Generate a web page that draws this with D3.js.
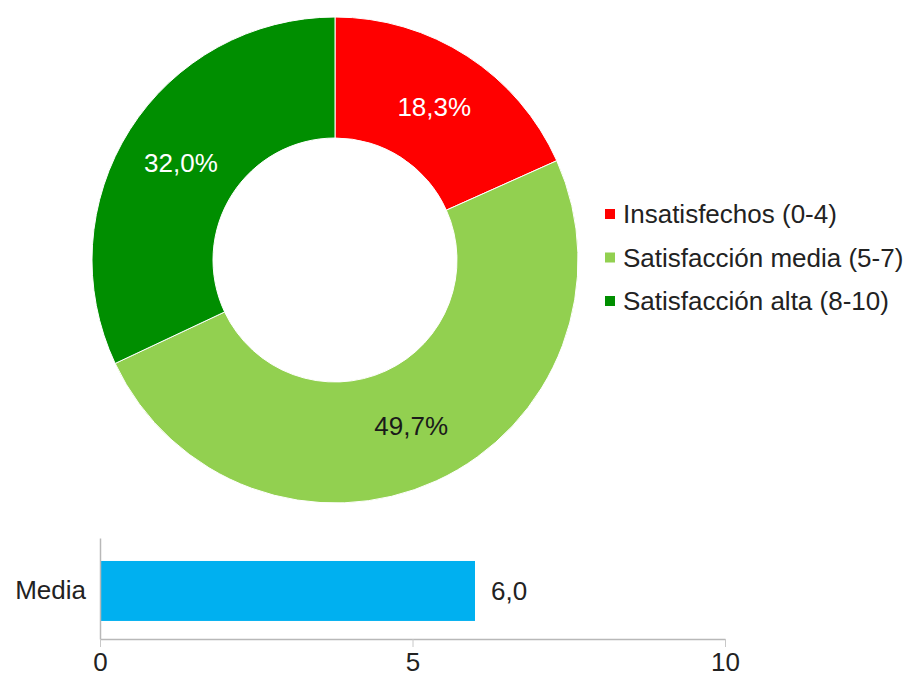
<!DOCTYPE html>
<html>
<head>
<meta charset="utf-8">
<script src="https://cdn.jsdelivr.net/npm/d3@7"></script>
<style>
  html, body { margin: 0; padding: 0; background: #fff; }
  svg { display: block; font-family: "Liberation Sans", Arial, sans-serif; }
</style>
</head>
<body>
<svg id="chart" width="914" height="677"></svg>
<script>
// Satisfaction distribution (percent)
const categories = ["Insatisfechos (0-4)", "Satisfacción media (5-7)", "Satisfacción alta (8-10)"];
const shares = [18.3, 49.7, 32.0];
const shareLabels = ["18,3%", "49,7%", "32,0%"];
const colors = ["#ff0000", "#92d050", "#008e00"];
const labelColors = ["#ffffff", "#1a1a1a", "#ffffff"];

// Mean score
const barCategories = ["Media"];
const barValues = [6.0];
const barLabels = ["6,0"];
const axisTicks = [0, 5, 10];
const axisTickLabels = ["0", "5", "10"];

const svg = d3.select("#chart");
const fontSize = 26;

// ---- Donut ----
const cx = 335, cy = 260, rOuter = 243, rInner = 122;
const pie = d3.pie().sort(null).value(d => d)(shares);
const arc = d3.arc().innerRadius(rInner).outerRadius(rOuter);

const donut = svg.append("g").attr("transform", `translate(${cx},${cy})`);
donut.selectAll("path.slice")
  .data(pie)
  .join("path")
  .attr("class", "slice")
  .attr("d", arc)
  .attr("fill", (d, i) => colors[i])
  .attr("stroke", "#ffffff")
  .attr("stroke-width", 1);

donut.selectAll("text.pct")
  .data(pie)
  .join("text")
  .attr("class", "pct")
  .attr("transform", d => `translate(${arc.centroid(d)})`)
  .attr("text-anchor", "middle")
  .attr("dy", "0.36em")
  .attr("font-size", fontSize)
  .attr("fill", (d, i) => labelColors[i])
  .text((d, i) => shareLabels[i]);

// ---- Legend ----
const legend = svg.append("g").attr("transform", "translate(605,214)");
const rowGap = 43.5;
const rows = legend.selectAll("g.row")
  .data(categories)
  .join("g")
  .attr("class", "row")
  .attr("transform", (d, i) => `translate(0,${i * rowGap})`);
rows.append("rect")
  .attr("x", 0).attr("y", -5)
  .attr("width", 10).attr("height", 10)
  .attr("fill", (d, i) => colors[i]);
rows.append("text")
  .attr("x", 18)
  .attr("dy", "0.36em")
  .attr("font-size", fontSize)
  .attr("fill", "#222")
  .text(d => d);

// ---- Bar chart of the mean ----
const x = d3.scaleLinear().domain([0, 10]).range([100, 725]);
const y = d3.scaleBand().domain(barCategories).range([538, 639])
  .paddingInner(0).paddingOuter(0.342).align(0.56);

const bars = svg.append("g");
bars.selectAll("rect")
  .data(barValues)
  .join("rect")
  .attr("x", x(0))
  .attr("y", (d, i) => y(barCategories[i]))
  .attr("width", d => x(d) - x(0))
  .attr("height", y.bandwidth())
  .attr("fill", "#00b0f0");

bars.selectAll("text.val")
  .data(barValues)
  .join("text")
  .attr("class", "val")
  .attr("x", d => x(d) + 16)
  .attr("y", (d, i) => y(barCategories[i]) + y.bandwidth() / 2)
  .attr("dy", "0.36em")
  .attr("font-size", fontSize)
  .attr("fill", "#222")
  .text((d, i) => barLabels[i]);

// Category axis
const yAxis = svg.append("g")
  .attr("transform", `translate(${x(0)},0)`)
  .call(d3.axisLeft(y).tickSize(0).tickPadding(14));
yAxis.select(".domain").attr("stroke", "#b8b8b8").attr("stroke-width", 1.5);
yAxis.selectAll("text").attr("font-size", fontSize).attr("fill", "#222")
  .attr("font-family", "Liberation Sans, Arial, sans-serif");

// Value axis
const xAxis = svg.append("g")
  .attr("transform", "translate(0,639)")
  .call(d3.axisBottom(x).tickValues(axisTicks).tickFormat((d, i) => axisTickLabels[i])
    .tickSizeInner(8).tickSizeOuter(0).tickPadding(6));
xAxis.select(".domain").attr("stroke", "#b8b8b8").attr("stroke-width", 1.5);
xAxis.selectAll(".tick line").attr("stroke", "#c8c8c8");
xAxis.selectAll("text").attr("font-size", fontSize).attr("fill", "#222")
  .attr("font-family", "Liberation Sans, Arial, sans-serif");
</script>
</body>
</html>
